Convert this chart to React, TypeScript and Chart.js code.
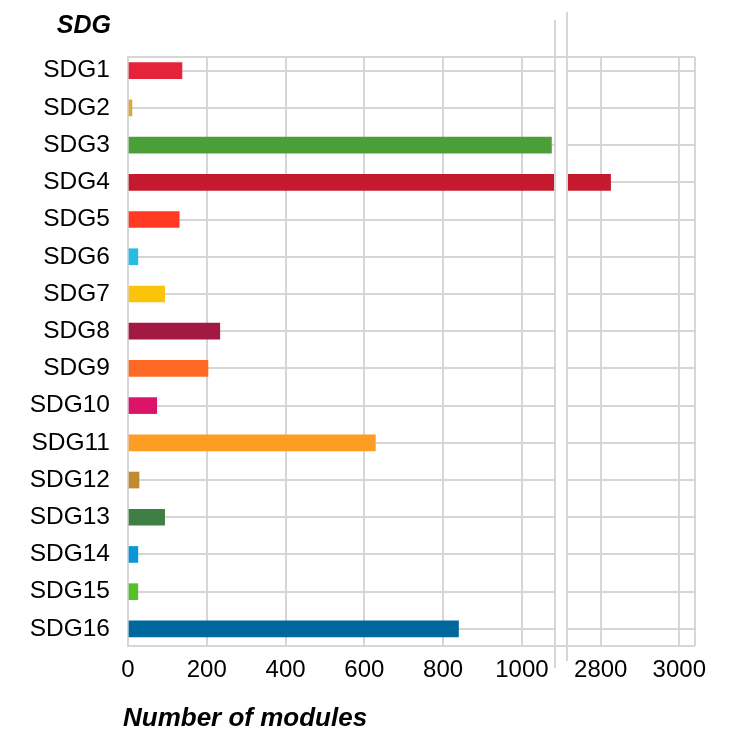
import React, { useEffect, useRef } from 'react';
import { Chart, registerables } from 'chart.js';

Chart.register(...registerables);

// ---- data ----
const sdgLabels = [
  'SDG1', 'SDG2', 'SDG3', 'SDG4', 'SDG5', 'SDG6', 'SDG7', 'SDG8',
  'SDG9', 'SDG10', 'SDG11', 'SDG12', 'SDG13', 'SDG14', 'SDG15', 'SDG16',
];
const moduleCounts = [137, 10, 1075, 2825, 130, 25, 93, 233, 203, 73, 628, 28, 93, 25, 25, 839];
const sdgColors = [
  '#E5243B', '#DDA63A', '#4C9F38', '#C5192D', '#FF3A21', '#26BDE2', '#FCC30B', '#A21942',
  '#FD6925', '#DD1367', '#FD9D24', '#BF8B2E', '#3F7E44', '#0A97D9', '#56C02B', '#00689D',
];
const leftAxisRange = [0, 1084];
const rightAxisRange = [2714, 3040];
const xTickStep = 200;
const categoryRange = [-0.368, 15.46];
const yTitle = 'SDG';
const xTitle = 'Number of modules';

// ---- styles ----
const GRID = '#d6d6d6';
const FONT = '"Liberation Sans", Arial, Helvetica, sans-serif';

type Side = 'left' | 'right';

function framePlugin(side: Side) {
  return {
    id: 'frame-' + side,
    afterDatasetsDraw(chart: any) {
      const { ctx, chartArea: a } = chart;
      const gapHalf = 6;
      ctx.save();
      ctx.strokeStyle = GRID;
      ctx.lineWidth = 2;
      ctx.beginPath();
      const x0 = side === 'left' ? a.left : a.left - gapHalf;
      const x1 = side === 'left' ? a.right + gapHalf : a.right;
      ctx.moveTo(x0, a.top);
      ctx.lineTo(x1, a.top);
      ctx.moveTo(x0, a.bottom);
      ctx.lineTo(x1, a.bottom);
      if (side === 'left') {
        ctx.moveTo(a.right, a.top - 37);
        ctx.lineTo(a.right, a.bottom + 22);
      } else {
        ctx.moveTo(a.left, a.top - 45);
        ctx.lineTo(a.left, a.bottom + 15);
        ctx.moveTo(a.right, a.top);
        ctx.lineTo(a.right, a.bottom);
      }
      ctx.stroke();
      ctx.restore();
    },
  };
}

function makeConfig(side: Side): any {
  const range = side === 'left' ? leftAxisRange : rightAxisRange;
  return {
    type: 'bar',
    data: {
      datasets: [
        {
          data: moduleCounts.map((v, i) => ({ x: v, y: i })),
          backgroundColor: sdgColors,
          borderWidth: 0,
          barThickness: 16,
          clip: 0,
        },
      ],
    },
    options: {
      indexAxis: 'y',
      responsive: false,
      animation: false,
      events: [],
      layout: {
        padding: side === 'left'
          ? { top: 57, right: 185, left: 0, bottom: 0 }
          : { top: 57, right: 45, left: 0, bottom: 0 },
      },
      plugins: {
        legend: { display: false },
        tooltip: { enabled: false },
        title: { display: false },
      },
      scales: {
        x: {
          type: 'linear',
          position: 'bottom',
          min: range[0],
          max: range[1],
          grid: { color: GRID, lineWidth: 2, drawTicks: false },
          border: { display: false },
          ticks: {
            stepSize: xTickStep,
            includeBounds: false,
            autoSkip: false,
            maxRotation: 0,
            padding: 10,
            color: '#000',
            font: { size: 24, family: FONT },
            callback: (v: number) => String(v),
          },
          afterFit: (s: any) => { s.height = 84; },
        },
        y: {
          type: 'linear',
          reverse: true,
          offset: false,
          min: categoryRange[0],
          max: categoryRange[1],
          grid: { color: GRID, lineWidth: 2, drawTicks: false, offset: false },
          border: { display: side === 'left', color: GRID, width: 2 },
          ticks: {
            display: side === 'left',
            stepSize: 1,
            includeBounds: false,
            autoSkip: false,
            padding: 18,
            color: '#000',
            font: { size: 24.5, family: FONT },
            callback: (v: number) => sdgLabels[v] ?? '',
          },
          afterFit: (s: any) => { s.width = side === 'left' ? 128 : 567; },
        },
      },
    },
    plugins: [framePlugin(side)],
  };
}

export default function App() {
  const leftRef = useRef<HTMLCanvasElement>(null);
  const rightRef = useRef<HTMLCanvasElement>(null);

  useEffect(() => {
    const c1 = new Chart(leftRef.current as HTMLCanvasElement, makeConfig('left'));
    const c2 = new Chart(rightRef.current as HTMLCanvasElement, makeConfig('right'));
    return () => {
      c1.destroy();
      c2.destroy();
    };
  }, []);

  const titleStyle: React.CSSProperties = {
    position: 'absolute',
    fontFamily: FONT,
    fontStyle: 'italic',
    fontWeight: 'bold',
    fontSize: 25,
    lineHeight: '25px',
    color: '#000',
    whiteSpace: 'nowrap',
  };

  return (
    <div style={{ position: 'fixed', left: 0, top: 0, width: 740, height: 730, background: '#fff' }}>
      <canvas ref={leftRef} width={740} height={730} style={{ position: 'absolute', left: 0, top: 0 }} />
      <canvas ref={rightRef} width={740} height={730} style={{ position: 'absolute', left: 0, top: 0 }} />
      <div style={{ ...titleStyle, left: 0, width: 111, top: 12, textAlign: 'right' }}>{yTitle}</div>
      <div style={{ ...titleStyle, left: 123, top: 704, fontSize: 26, lineHeight: '26px' }}>{xTitle}</div>
    </div>
  );
}
